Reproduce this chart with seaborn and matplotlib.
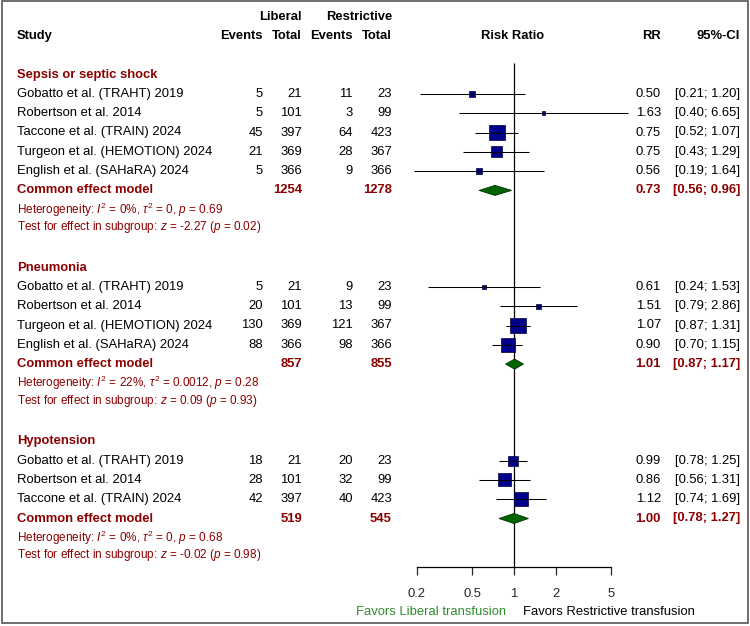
"""Forest plot of risk ratios by subgroup (liberal vs restrictive transfusion)."""
import matplotlib
matplotlib.use("Agg")
import matplotlib.pyplot as plt
import pandas as pd
import seaborn as sns
from matplotlib.patches import Rectangle

# ---- data -----------------------------------------------------------------
group_names = ["Sepsis or septic shock", "Pneumonia", "Hypotension"]

study_group = [0, 0, 0, 0, 0, 1, 1, 1, 1, 2, 2, 2]
study_names = [
    "Gobatto et al. (TRAHT) 2019", "Robertson et al. 2014",
    "Taccone et al. (TRAIN) 2024", "Turgeon et al. (HEMOTION) 2024",
    "English et al. (SAHaRA) 2024",
    "Gobatto et al. (TRAHT) 2019", "Robertson et al. 2014",
    "Turgeon et al. (HEMOTION) 2024", "English et al. (SAHaRA) 2024",
    "Gobatto et al. (TRAHT) 2019", "Robertson et al. 2014",
    "Taccone et al. (TRAIN) 2024",
]
lib_events = [5, 5, 45, 21, 5, 5, 20, 130, 88, 18, 28, 42]
lib_total = [21, 101, 397, 369, 366, 21, 101, 369, 366, 21, 101, 397]
res_events = [11, 3, 64, 28, 9, 9, 13, 121, 98, 20, 32, 40]
res_total = [23, 99, 423, 367, 366, 23, 99, 367, 366, 23, 99, 423]
rr = [0.50, 1.63, 0.75, 0.75, 0.56, 0.61, 1.51, 1.07, 0.90, 0.99, 0.86, 1.12]
rr_lo = [0.21, 0.40, 0.52, 0.43, 0.19, 0.24, 0.79, 0.87, 0.70, 0.78, 0.56, 0.74]
rr_hi = [1.20, 6.65, 1.07, 1.29, 1.64, 1.53, 2.86, 1.31, 1.15, 1.25, 1.31, 1.69]
weight = [9.3, 2.7, 55.0, 24.9, 8.0, 3.6, 5.5, 50.3, 40.7, 21.2, 35.8, 43.0]

pooled_rr = [0.73, 1.01, 1.00]
pooled_lo = [0.56, 0.87, 0.78]
pooled_hi = [0.96, 1.17, 1.27]
pooled_lib_total = [1254, 857, 519]
pooled_res_total = [1278, 855, 545]
het_i2 = ["0%", "22%", "0%"]
het_tau2 = ["0", "0.0012", "0"]
het_p = ["0.69", "0.28", "0.68"]
test_z = ["-2.27", "0.09", "-0.02"]
test_p = ["0.02", "0.93", "0.98"]

tick_values = [0.2, 0.5, 1, 2, 5]
tick_labels = ["0.2", "0.5", "1", "2", "5"]

# ---- style ----------------------------------------------------------------
sns.set_theme(style="white")
plt.rcParams["font.family"] = ["Liberation Sans", "DejaVu Sans"]
plt.rcParams["mathtext.fontset"] = "custom"
plt.rcParams["mathtext.rm"] = "Liberation Sans"
plt.rcParams["mathtext.it"] = "Liberation Sans:italic"
plt.rcParams["mathtext.bf"] = "Liberation Sans:bold"

RED = "#8b0000"
FS = 9.4
FS_SMALL = 8.5
W, H = 750, 626
ROW_PX, ROW0_PX = 19.3, 36.0          # pixel height of a row, y of row 0
YLIM = ((H - ROW0_PX) / ROW_PX, -ROW0_PX / ROW_PX)

# column anchors (pixels)
X_STUDY, X_LEV, X_LTOT, X_REV, X_RTOT = 17, 263, 302, 353, 392
X_RR, X_CI = 661, 740

# build row layout
rows = []
r = 2
for g, name in enumerate(group_names):
    rows.append(("head", g, r)); r += 1
    for i, sg in enumerate(study_group):
        if sg == g:
            rows.append(("study", i, r)); r += 1
    rows.append(("pool", g, r)); r += 1
    rows.append(("het", g, r)); r += 1
    rows.append(("test", g, r)); r += 2
AXIS_ROW = r - 1.5

study_row = {idx: rr_ for kind, idx, rr_ in rows if kind == "study"}
pool_row = {idx: rr_ for kind, idx, rr_ in rows if kind == "pool"}

df = pd.DataFrame({
    "study": study_names, "rr": rr, "lo": rr_lo, "hi": rr_hi, "weight": weight,
    "row": [study_row[i] for i in range(len(study_names))],
})

fig = plt.figure(figsize=(W / 100, H / 100), dpi=100)

# ---- text layer -----------------------------------------------------------
ax_t = fig.add_axes([0, 0, 1, 1])
ax_t.set_xlim(0, W)
ax_t.set_ylim(*YLIM)
ax_t.axis("off")


def txt(x, y, s, ha="left", color="black", bold=False, size=FS):
    ax_t.text(x, y, s, ha=ha, va="center", color=color, fontsize=size,
              fontweight="bold" if bold else "normal")


txt(X_LTOT, -1, "Liberal", ha="right", bold=True)
txt(X_RTOT, -1, "Restrictive", ha="right", bold=True)
txt(X_STUDY, 0, "Study", bold=True)
txt(X_LEV, 0, "Events", ha="right", bold=True)
txt(X_LTOT, 0, "Total", ha="right", bold=True)
txt(X_REV, 0, "Events", ha="right", bold=True)
txt(X_RTOT, 0, "Total", ha="right", bold=True)
txt(513, 0, "Risk Ratio", ha="center", bold=True)
txt(X_RR, 0, "RR", ha="right", bold=True)
txt(X_CI, 0, "95%-CI", ha="right", bold=True)

for kind, idx, y in rows:
    if kind == "head":
        txt(X_STUDY, y, group_names[idx], color=RED, bold=True)
    elif kind == "study":
        txt(X_STUDY, y, study_names[idx])
        txt(X_LEV, y, str(lib_events[idx]), ha="right")
        txt(X_LTOT, y, str(lib_total[idx]), ha="right")
        txt(X_REV, y, str(res_events[idx]), ha="right")
        txt(X_RTOT, y, str(res_total[idx]), ha="right")
        txt(X_RR, y, f"{rr[idx]:.2f}", ha="right")
        txt(X_CI, y, f"[{rr_lo[idx]:.2f}; {rr_hi[idx]:.2f}]", ha="right")
    elif kind == "pool":
        txt(X_STUDY, y, "Common effect model", color=RED, bold=True)
        txt(X_LTOT, y, str(pooled_lib_total[idx]), ha="right", color=RED, bold=True)
        txt(X_RTOT, y, str(pooled_res_total[idx]), ha="right", color=RED, bold=True)
        txt(X_RR, y, f"{pooled_rr[idx]:.2f}", ha="right", color=RED, bold=True)
        txt(X_CI, y, f"[{pooled_lo[idx]:.2f}; {pooled_hi[idx]:.2f}]",
            ha="right", color=RED, bold=True)
    elif kind == "het":
        txt(X_STUDY, y,
            rf"Heterogeneity: $\mathit{{I}}^2$ = {het_i2[idx]}, "
            rf"$\tau^2$ = {het_tau2[idx]}, $\mathit{{p}}$ = {het_p[idx]}",
            color=RED, size=FS_SMALL)
    elif kind == "test":
        txt(X_STUDY, y - 0.1,
            rf"Test for effect in subgroup: $\mathit{{z}}$ = {test_z[idx]} "
            rf"($\mathit{{p}}$ = {test_p[idx]})",
            color=RED, size=FS_SMALL)

txt(506, AXIS_ROW + 2.33, "Favors Liberal transfusion", ha="right",
    color="#2e8b2e", size=FS)
txt(523, AXIS_ROW + 2.33, "Favors Restrictive transfusion", size=FS)

# ---- forest layer ---------------------------------------------------------
PX_DEC = 138.8                       # pixels per decade on the log axis
left_px = 514 - PX_DEC
ax = fig.add_axes([left_px / W, 0, 2 * PX_DEC / W, 1])
ax.patch.set_alpha(0)
ax.set_xscale("log")
ax.set_xlim(0.1, 10)
ax.set_ylim(*YLIM)

ax.vlines(1, 1.4, AXIS_ROW, color="black", lw=0.9, zorder=1)
ax.hlines(df["row"], df["lo"], df["hi"], color="black", lw=0.75, zorder=3)

sns.scatterplot(data=df, x="rr", y="row", size="weight", marker="s",
                sizes=(0, 2.4 * 55), size_norm=(0, 55), color="#00008b",
                edgecolor="#000033", linewidth=0.5, legend=False, ax=ax,
                zorder=2)

for g in range(len(group_names)):
    y = pool_row[g]
    h = 0.26
    ax.fill([pooled_lo[g], pooled_rr[g], pooled_hi[g], pooled_rr[g]],
            [y, y - h, y, y + h], facecolor="#006400", edgecolor="#003300",
            lw=0.6, zorder=3)

for side in ["top", "left", "right"]:
    ax.spines[side].set_visible(False)
ax.spines["bottom"].set_position(("data", AXIS_ROW))
ax.spines["bottom"].set_bounds(0.2, 5)
ax.spines["bottom"].set_color("black")
ax.spines["bottom"].set_linewidth(0.9)
ax.set_xticks(tick_values)
ax.set_xticklabels(tick_labels)
ax.xaxis.set_minor_locator(matplotlib.ticker.NullLocator())
ax.tick_params(axis="x", direction="out", length=5.8, width=0.9,
               pad=9.5, labelsize=FS, bottom=True)
ax.set_yticks([])
ax.set_xlabel("")
ax.set_ylabel("")

fig.add_artist(Rectangle((2 / W, 3 / H), 746 / W, 622 / H,
                         transform=fig.transFigure, fill=False,
                         edgecolor="#555555", lw=1.2))

fig.savefig("out.png", dpi=100)
